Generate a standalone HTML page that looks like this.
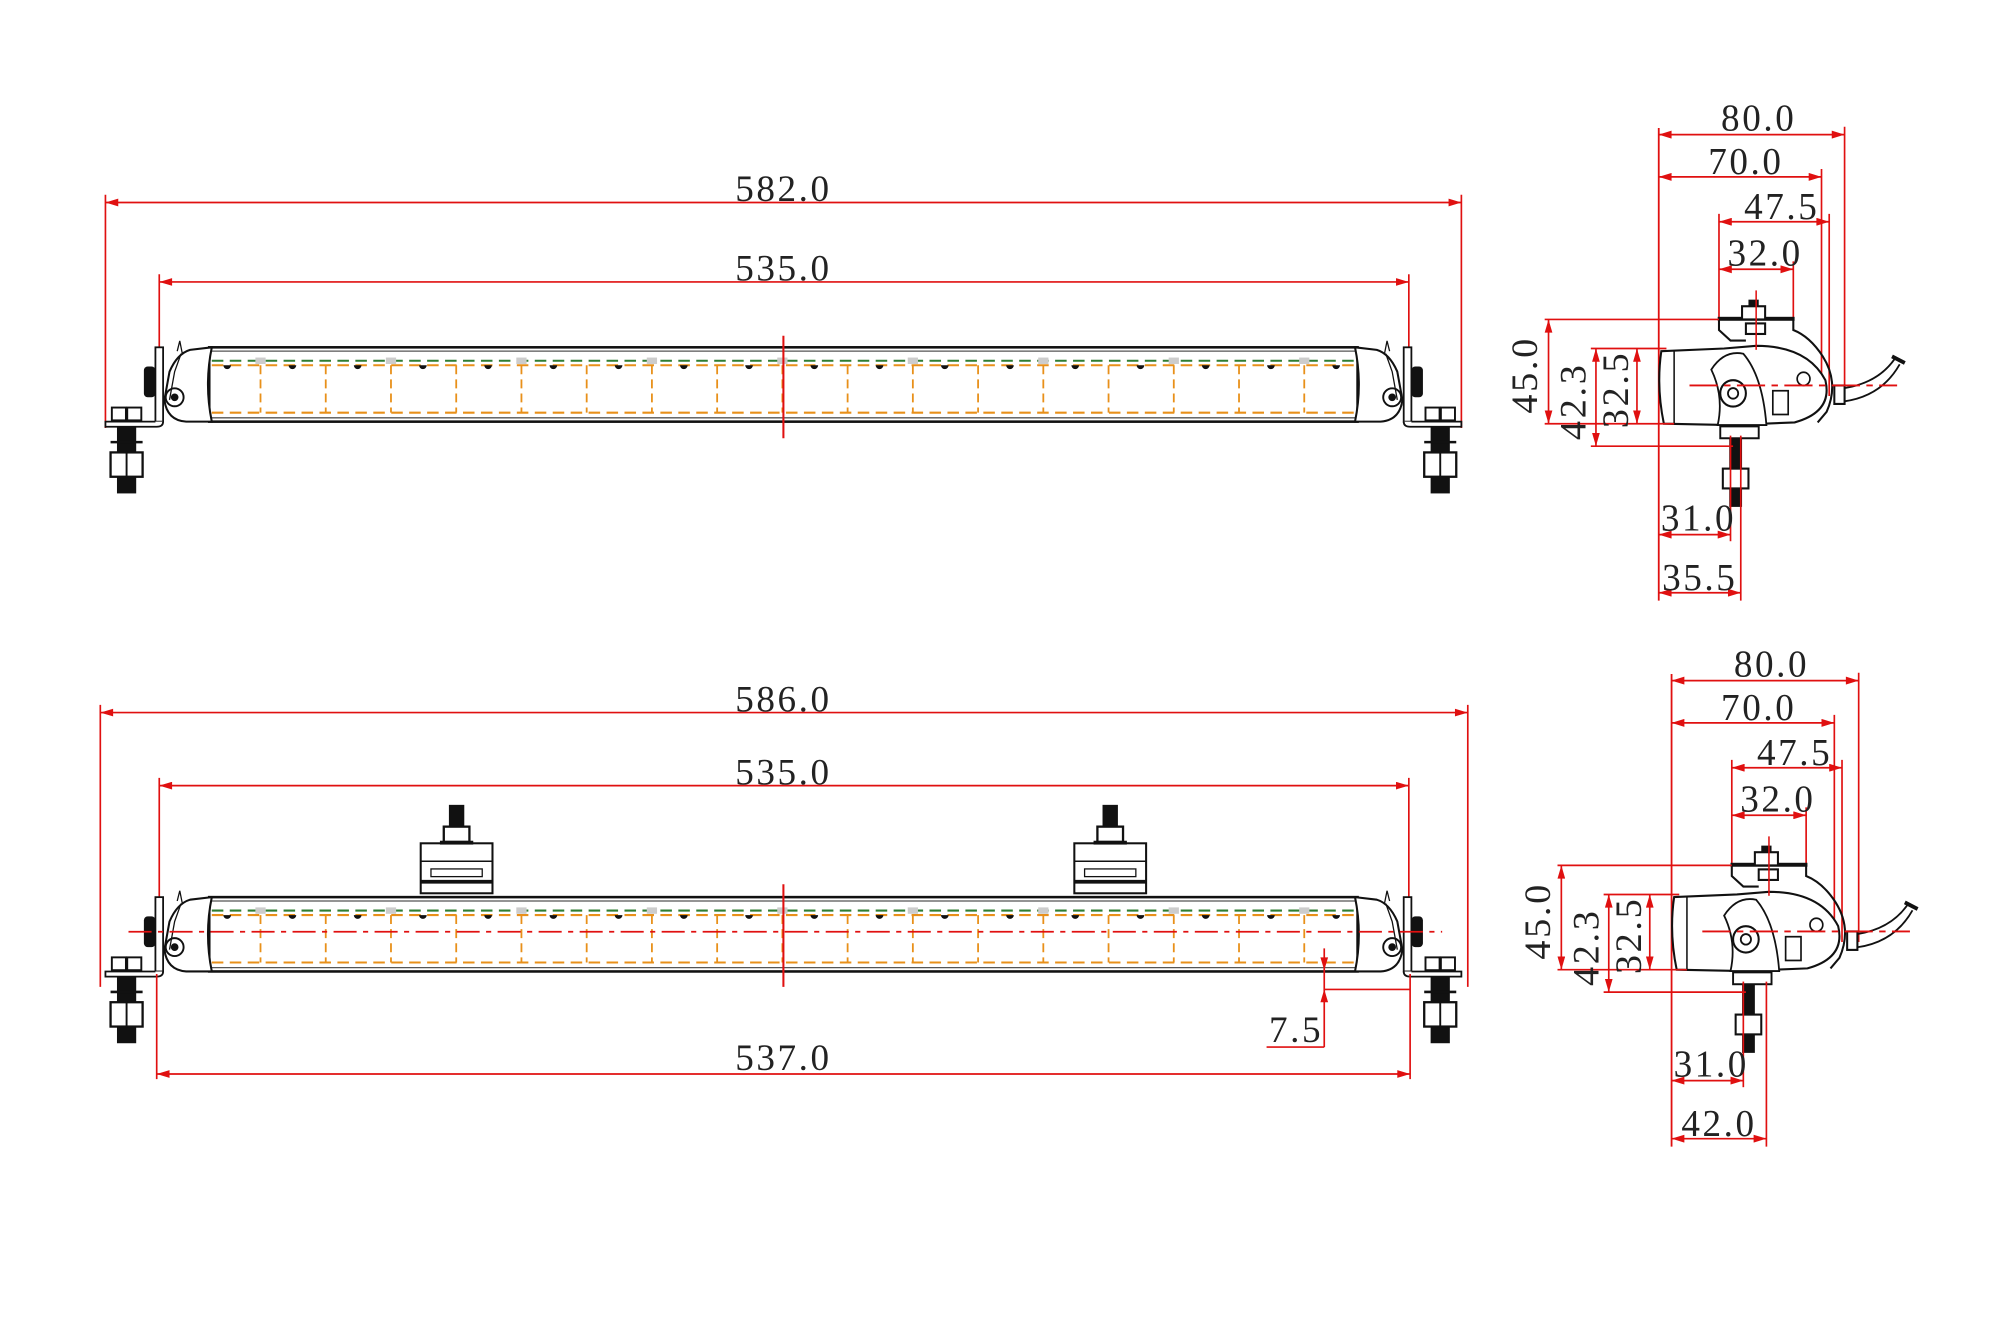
<!DOCTYPE html>
<html><head><meta charset="utf-8"><style>
html,body{margin:0;padding:0;background:#fff;width:2000px;height:1338px;overflow:hidden}
svg{display:block}
text{font-family:"Liberation Serif",serif;font-size:29px;fill:#222;letter-spacing:2px}
</style></head><body>
<svg id="s" width="2000" height="1338" viewBox="0 0 1560 1044" xmlns="http://www.w3.org/2000/svg">
<defs>
<marker id="a" viewBox="0 0 10 6" refX="10" refY="3" markerWidth="14" markerHeight="6" orient="auto-start-reverse" markerUnits="userSpaceOnUse"><path d="M0,0L10,3L0,6z" fill="#e01010"/></marker>
</defs>
<g id="root"></g>
</svg>
<script>
const NS="http://www.w3.org/2000/svg",root=document.getElementById('root');
function el(t,a,p){const e=document.createElementNS(NS,t);for(const k in a)e.setAttribute(k,a[k]);(p||root).appendChild(e);return e}
function L(x1,y1,x2,y2,c,w,extra,p){return el('line',Object.assign({x1,y1,x2,y2,stroke:c||'#e01010','stroke-width':w||1.3},extra||{}),p)}
function dim(x1,y1,x2,y2,p){L(x1,y1,x2,y2,'#e01010',1.3,{'marker-start':'url(#a)','marker-end':'url(#a)'},p)}
function T(x,y,s,rot,p){const t=el('text',{x,y,'text-anchor':'middle'},p);t.textContent=s;if(rot)t.setAttribute('transform',`rotate(-90 ${x} ${y})`);return t}
const R='#e01010',K='#111',O='#e8901a',G='#2e7d32';

function bar(dy,grp){
  const g=el('g',{transform:`translate(0 ${dy})`},grp);
  el('rect',{x:163,y:271,width:896,height:58,fill:'none',stroke:K,'stroke-width':2},g);
  L(163,274,1059,274,'#555',1,{},g);
  L(163,326,1059,326,'#555',1,{},g);
  L(165,281.5,1057,281.5,G,1.6,{'stroke-dasharray':'9 5'},g);
  L(165,285,1057,285,O,1.6,{'stroke-dasharray':'9 5'},g);
  L(165,322,1057,322,O,1.6,{'stroke-dasharray':'9 5'},g);
  for(let i=0;i<17;i++){const x=203+50.9*i;L(x,285,x,322,O,1.4,{'stroke-dasharray':'7 4'},g);}
  for(let i=0;i<18;i++){const x=177+50.9*i;el('path',{d:`M${x-3},285 a3,3 0 0 0 6,0z`,fill:K},g);}
  for(let i=0;i<9;i++){const x=203+101.8*i;el('rect',{x:x-4,y:279,width:8,height:5,fill:'#ccc'},g);}
  for(const s of [1,-1]){
    const m=s===1?'':`translate(1222 0) scale(-1 1)`;
    const c=el('g',{transform:m},g);
    el('path',{d:'M165,271 L148,273 Q138,276 132,290 L128,312 Q130,328 145,329 L165,329 Q159,300 165,271z',fill:'#fff',stroke:K,'stroke-width':1.6},c);
    el('path',{d:'M141,276 L136,290 L132,312',fill:'none',stroke:K,'stroke-width':1},c);
    el('circle',{cx:136,cy:310,r:7,fill:'none',stroke:K,'stroke-width':1.5},c);
    el('circle',{cx:136,cy:310,r:3,fill:K},c);
    el('path',{d:'M138,274 L140,266 L142,276',fill:'none',stroke:K,'stroke-width':1},c);
    el('rect',{x:121,y:271,width:6,height:58,fill:'#fff',stroke:K,'stroke-width':1.4},c);
    el('rect',{x:112,y:286,width:9,height:24,rx:3,fill:K},c);
    el('path',{d:'M127,329 Q127,333 122,333 L82,333 L82,329 L121,329',fill:'#fff',stroke:K,'stroke-width':1.4},c);
    el('rect',{x:87,y:318,width:11,height:10,fill:'#fff',stroke:K,'stroke-width':1.5},c);
    el('rect',{x:99,y:318,width:11,height:10,fill:'#fff',stroke:K,'stroke-width':1.5},c);
    el('rect',{x:91,y:333,width:15,height:52,fill:K},c);
    el('rect',{x:86,y:353,width:25,height:19,fill:'#fff',stroke:K,'stroke-width':1.8},c);
    L(98.5,353,98.5,372,K,1.5,{},c);
    L(86,345,111,345,K,2,{},c);
  }
  return g;
}
dim(82,158,1140,158);L(82,152,82,334);L(1140,152,1140,334);
T(611,157,'582.0');
dim(124,220,1099,220);L(124,214,124,300);L(1099,214,1099,300);
T(611,219,'535.0');
bar(0);
L(611,262,611,342,R,1.6);

dim(78,556,1145,556);L(78,550,78,770);L(1145,550,1145,770);
T(611,555,'586.0');
dim(124,613,1099,613);L(124,607,124,725);L(1099,607,1099,725);
T(611,612,'535.0');
bar(429);
for(const cx of [356,866]){
  el('rect',{x:cx-28,y:658,width:56,height:39,fill:'#fff',stroke:K,'stroke-width':1.6});
  L(cx-28,672,cx+28,672,K,1.2);L(cx-28,688,cx+28,688,K,3);
  el('rect',{x:cx-20,y:678,width:40,height:6,fill:'none',stroke:K,'stroke-width':1});
  el('rect',{x:cx-10,y:645,width:20,height:12,fill:'#fff',stroke:K,'stroke-width':1.8});
  el('rect',{x:cx-13,y:656,width:26,height:3,fill:K});
  el('rect',{x:cx-6,y:628,width:12,height:17,fill:K});
}
L(100,727,1125,727,R,1.4,{'stroke-dasharray':'18 5 4 5'});
L(611,690,611,770,R,1.6);
dim(122,838,1100,838);L(122,760,122,842);L(1100,760,1100,842);
T(611,835,'537.0');
L(1033,740,1033,817);L(1033,772,1100,772);
el('path',{d:'M1033,757 l-3,-10 h6z',fill:R});el('path',{d:'M1033,772 l-3,10 h6z',fill:R});
L(988,817,1033,817);
T(1011,813,'7.5');

function side(dx,dy,lastLabel,lastX,w80){
  const g=el('g',{transform:`translate(${dx} ${dy}) scale(1 1.03)`});
  const x0=1294;
  L(x0,97,x0,455,R,1.4,{},g);
  dim(x0,102,w80,102,g);L(w80,96,w80,300,R,1.3,{},g);T(1372,99,'80.0',0,g);
  dim(x0,134,1421,134,g);L(1421,128,1421,300,R,1.3,{},g);T(1362,132,'70.0',0,g);
  dim(1341,168,1427,168,g);L(1341,162,1341,242,R,1.3,{},g);L(1427,162,1427,300,R,1.3,{},g);T(1390,166,'47.5',0,g);
  dim(1341,204,1399,204,g);L(1399,198,1399,242,R,1.3,{},g);T(1377,201,'32.0',0,g);
  el('path',{d:'M1296,266 L1345,264 L1370,262 Q1410,262 1424,288 Q1430,312 1400,320 L1350,322 L1298,321 Q1292,293 1296,266z',fill:'#fff',stroke:K,'stroke-width':1.6},g);
  L(1306,266,1306,321,K,1.2,{},g);
  el('path',{d:'M1341,242 L1399,242 L1399,250 Q1412,255 1422,270 Q1435,290 1425,312 L1418,320',fill:'none',stroke:K,'stroke-width':1.6},g);
  el('path',{d:'M1341,242 L1341,250 L1350,258 L1362,258',fill:'none',stroke:K,'stroke-width':1.6},g);
  el('rect',{x:1340,y:240,width:60,height:3,fill:K},g);
  el('rect',{x:1342,y:323,width:30,height:9,fill:'#fff',stroke:K,'stroke-width':1.5},g);
  el('path',{d:'M1335,280 Q1345,265 1360,268 Q1375,285 1378,322 L1340,322 Q1345,300 1335,280z',fill:'#fff',stroke:K,'stroke-width':1.4},g);
  el('circle',{cx:1352,cy:298,r:10,fill:'#fff',stroke:K,'stroke-width':1.6},g);
  el('circle',{cx:1352,cy:298,r:4,fill:'#fff',stroke:K,'stroke-width':1.4},g);
  el('circle',{cx:1407,cy:287,r:5,fill:'#fff',stroke:K,'stroke-width':1.3},g);
  el('rect',{x:1383,y:296,width:12,height:18,fill:'#fff',stroke:K,'stroke-width':1.3},g);
  el('rect',{x:1364,y:227,width:8,height:14,fill:K},g);
  el('rect',{x:1359,y:232,width:18,height:10,fill:'#fff',stroke:K,'stroke-width':1.6},g);
  el('rect',{x:1362,y:245,width:15,height:8,fill:'#fff',stroke:K,'stroke-width':1.6},g);
  el('rect',{x:1349,y:332,width:10,height:52,fill:K},g);
  el('rect',{x:1344,y:355,width:20,height:15,fill:'#fff',stroke:K,'stroke-width':1.6},g);
  el('rect',{x:1431,y:292,width:8,height:14,fill:'#fff',stroke:K,'stroke-width':1.6},g);
  el('path',{d:'M1439,294 Q1465,290 1478,272 M1439,304 Q1468,300 1482,276',fill:'none',stroke:K,'stroke-width':1.4},g);
  L(1476,270,1486,275,K,3,{},g);
  L(1318,292,1480,292,R,1.4,{'stroke-dasharray':'22 5 5 5'},g);
  L(1370,220,1370,265,R,1.2,{},g);
  L(1205,242,1341,242,R,1.3,{},g);
  L(1241,264,1300,264,R,1.3,{},g);
  L(1205,321,1306,321,R,1.3,{},g);
  L(1241,338,1352,338,R,1.3,{},g);
  dim(1208,242,1208,321,g);dim(1245,264,1245,338,g);dim(1277,264,1277,321,g);
  T(1199,284,'45.0',1,g);T(1237,304,'42.3',1,g);T(1270,295,'32.5',1,g);
  L(1350,330,1350,410,R,1.3,{},g);L(lastX,330,lastX,455,R,1.3,{},g);
  dim(x0,405,1350,405,g);T(1325,402,'31.0',0,g);
  dim(x0,449,lastX,449,g);T((x0+lastX)/2,447,lastLabel,0,g);
}
side(0,0,'35.5',1358,1439);
side(10,426,'42.0',1368,1440);
</script>
</body></html>
